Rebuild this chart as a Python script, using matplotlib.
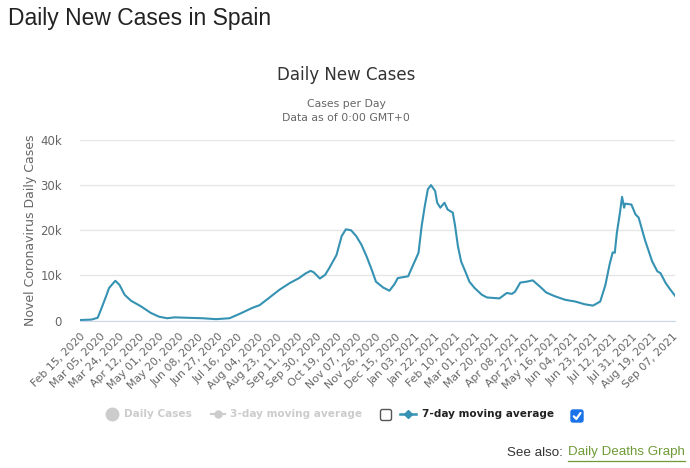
import numpy as np
import pandas as pd
import matplotlib
matplotlib.use('Agg')
import matplotlib.pyplot as plt
from matplotlib.patches import FancyBboxPatch

# Data (7-day moving average)
dates = ['2020-02-15', '2020-02-26', '2020-03-03', '2020-03-06', '2020-03-11', '2020-03-14',
         '2020-03-20', '2020-03-24', '2020-03-29', '2020-04-04', '2020-04-14', '2020-04-23',
         '2020-05-01', '2020-05-09', '2020-05-16', '2020-05-29', '2020-06-12', '2020-06-25',
         '2020-07-08', '2020-07-18', '2020-07-30', '2020-08-06', '2020-08-15', '2020-08-25',
         '2020-09-04', '2020-09-13', '2020-09-19', '2020-09-24', '2020-09-27', '2020-10-03',
         '2020-10-08', '2020-10-12', '2020-10-19', '2020-10-24', '2020-10-28', '2020-11-02',
         '2020-11-07', '2020-11-12', '2020-11-17', '2020-11-22', '2020-11-26', '2020-12-03',
         '2020-12-09', '2020-12-14', '2020-12-17', '2020-12-27', '2021-01-01', '2021-01-06',
         '2021-01-09', '2021-01-12', '2021-01-15', '2021-01-18', '2021-01-22', '2021-01-24',
         '2021-01-27', '2021-01-31', '2021-02-03', '2021-02-08', '2021-02-10', '2021-02-13',
         '2021-02-16', '2021-02-20', '2021-02-24', '2021-03-01', '2021-03-08', '2021-03-13',
         '2021-03-25', '2021-04-01', '2021-04-06', '2021-04-09', '2021-04-14', '2021-04-20',
         '2021-04-26', '2021-05-03', '2021-05-09', '2021-05-17', '2021-05-27', '2021-06-06',
         '2021-06-15', '2021-06-23', '2021-06-30', '2021-07-05', '2021-07-09', '2021-07-12',
         '2021-07-14', '2021-07-16', '2021-07-19', '2021-07-21', '2021-07-23', '2021-07-24',
         '2021-07-30', '2021-08-03', '2021-08-06', '2021-08-12', '2021-08-19', '2021-08-24',
         '2021-08-27', '2021-09-01', '2021-09-05', '2021-09-10']
cases_7day = [100, 200, 600, 2300, 5300, 7200,
              8800, 7900, 5700, 4400, 3100, 1700,
              850, 500, 700, 600, 500, 300,
              500, 1500, 2800, 3400, 5000, 6800,
              8300, 9400, 10400, 11000, 10700, 9300,
              10100, 11600, 14500, 18700, 20200, 20000,
              18700, 16800, 14200, 11200, 8600, 7300,
              6600, 8100, 9400, 9800, 12400, 15000,
              20900, 25300, 29100, 30000, 28700, 26100,
              25000, 26100, 24600, 23900, 21300, 16400,
              13100, 10900, 8600, 7200, 5700, 5100,
              4900, 6100, 5900, 6400, 8400, 8600,
              8900, 7500, 6200, 5400, 4600, 4200,
              3600, 3300, 4200, 7900, 12400, 15100,
              15000, 19400, 23900, 27400, 25000, 25900,
              25700, 23500, 22800, 17900, 13100, 10900,
              10500, 8300, 7000, 5500]

y_ticks = [0, 10000, 20000, 30000, 40000]
y_tick_labels = ['0', '10k', '20k', '30k', '40k']
x_tick_dates = pd.date_range('2020-02-15', '2021-09-07', freq='19D')
x_tick_labels = [d.strftime('%b %d, %Y') for d in x_tick_dates]

x = pd.to_datetime(dates)
line_color = '#3592b3'
grey = '#666666'

fig = plt.figure(figsize=(6.9, 4.68), dpi=100)
ax = fig.add_axes([80 / 690, 1 - 320.5 / 468, 595 / 690, 180.5 / 468])

ax.plot(x, cases_7day, color=line_color, linewidth=1.5)

ax.set_xlim(pd.Timestamp('2020-02-15'), pd.Timestamp('2021-09-10'))
ax.set_ylim(0, 40000)
ax.set_yticks(y_ticks)
ax.set_yticklabels(y_tick_labels, fontsize=8.5, color=grey)
ax.set_xticks(x_tick_dates)
ax.set_xticklabels(x_tick_labels, rotation=45, ha='right', rotation_mode='anchor',
                   fontsize=7.8, color=grey)
ax.tick_params(axis='both', length=0)
ax.tick_params(axis='x', pad=8)
ax.tick_params(axis='y', pad=13)
ax.grid(axis='y', color='#e6e6e6', linewidth=1)
ax.set_axisbelow(True)
for s in ['top', 'right', 'left']:
    ax.spines[s].set_visible(False)
ax.spines['bottom'].set_color('#ccd6eb')
ax.set_ylabel('Novel Coronavirus Daily Cases', fontsize=9, color=grey, labelpad=2)

# overlay in pixel coordinates for page texts and legend
ov = fig.add_axes([0, 0, 1, 1], facecolor='none')
ov.set_xlim(0, 690)
ov.set_ylim(468, 0)
ov.axis('off')

ov.text(8, 18, 'Daily New Cases in Spain', fontsize=16.5, family='Liberation Sans',
        color='#222222', va='center', ha='left')
ov.text(346, 75, 'Daily New Cases', fontsize=12, color='#333333', va='center', ha='center')
ov.text(346, 104, 'Cases per Day', fontsize=7.8, color=grey, va='center', ha='center')
ov.text(346, 118, 'Data as of 0:00 GMT+0', fontsize=7.8, color=grey, va='center', ha='center')

# legend
ly = 414
ov.plot([111.7], [ly], marker='o', markersize=9, color='#cccccc')
ov.text(124, ly, 'Daily Cases', fontsize=7.6, fontweight='bold', color='#cccccc', va='center')
ov.plot([210.7, 225], [ly, ly], color='#cccccc', linewidth=1.5)
ov.plot([217.5], [ly], marker='o', markersize=5, color='#cccccc')
ov.text(230.5, ly, '3-day moving average', fontsize=7.6, fontweight='bold', color='#cccccc', va='center')
ov.add_patch(FancyBboxPatch((380.5, ly - 4.5), 11, 11, boxstyle='round,pad=0,rounding_size=2',
                            facecolor='white', edgecolor='#555555', linewidth=1))
ov.plot([400, 415.5], [ly, ly], color=line_color, linewidth=1.8)
ov.plot([407.7], [ly], marker='D', markersize=4.5, color=line_color)
ov.text(421.5, ly, '7-day moving average', fontsize=7.6, fontweight='bold', color='#222222', va='center')
ov.add_patch(FancyBboxPatch((571, ly - 4), 12, 12, boxstyle='round,pad=0,rounding_size=2',
                            facecolor='#1a73e8', edgecolor='#1a73e8', linewidth=1))
ov.plot([573.8, 576.3, 580.5], [ly + 2.3, ly + 5, ly - 1], color='white', linewidth=1.6,
        solid_capstyle='round', solid_joinstyle='round')

# see also
t1 = ov.text(563, 452.5, 'See also:', fontsize=9.6, family='Liberation Sans', color='#333333',
             va='center', ha='right')
t2 = ov.text(568, 452.5, 'Daily Deaths Graph', fontsize=9.6, family='Liberation Sans',
             color='#6f9a37', va='center', ha='left')
fig.canvas.draw()
bb = t2.get_window_extent()
ov.plot([bb.x0, bb.x1], [460.5, 460.5], color='#6f9a37', linewidth=0.9)

fig.savefig('out.png', dpi=100)
